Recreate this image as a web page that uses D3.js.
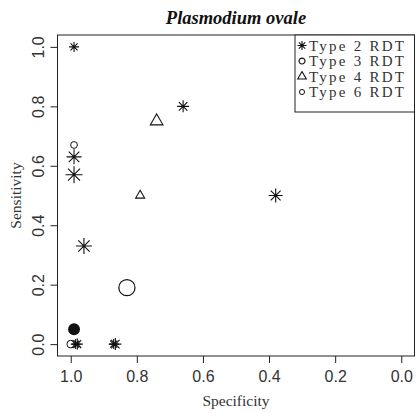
<!DOCTYPE html>
<html>
<head>
<meta charset="utf-8">
<script src="https://cdn.jsdelivr.net/npm/d3@7"></script>
<style>
  body { margin: 0; background: #fff; }
  svg { display: block; font-family: "Liberation Serif", "Times New Roman", serif; }
</style>
</head>
<body>
<svg id="chart" width="416" height="413"></svg>
<script>
// legend entries
const types = ['Type 2 RDT', 'Type 3 RDT', 'Type 4 RDT', 'Type 6 RDT'];

// one entry per study point
const specificity = [0.99, 0.66, 0.99, 0.99, 0.38, 0.96, 0.98, 0.985, 0.865, 0.87,
                     0.99, 0.83, 1.00, 0.74, 0.79, 0.99];
const sensitivity = [1.00, 0.80, 0.63, 0.57, 0.50, 0.33, 0.00, 0.00, 0.00, 0.00,
                     0.67, 0.19, 0.00, 0.75, 0.50, 0.05];
const rdtType     = ['Type 2 RDT', 'Type 2 RDT', 'Type 2 RDT', 'Type 2 RDT', 'Type 2 RDT',
                     'Type 2 RDT', 'Type 2 RDT', 'Type 2 RDT', 'Type 2 RDT', 'Type 2 RDT',
                     'Type 6 RDT', 'Type 3 RDT', 'Type 6 RDT', 'Type 4 RDT', 'Type 4 RDT', 'other'];
const weight      = [0.50, 0.60, 0.75, 0.85, 0.70, 0.80, 0.55, 0.50, 0.60, 0.50,
                     0.40, 0.95, 0.45, 0.70, 0.50, 0.70];

const xTicks = [1.0, 0.8, 0.6, 0.4, 0.2, 0.0];
const yTicks = [0.0, 0.2, 0.4, 0.6, 0.8, 1.0];

const svg = d3.select('#chart');
const box = { left: 57.5, right: 414.5, top: 35, bottom: 356 };

const x = d3.scaleLinear().domain([1.04, -0.04]).range([box.left, box.right]);
const y = d3.scaleLinear().domain([-0.04, 1.04]).range([box.bottom, box.top]);
const size = d3.scaleLinear().domain([0, 1]).range([0, 10]);

// symbol paths, s = half extent
function asterisk(s) {
    const a = s / Math.SQRT2;
    return `M0,${-s}L0,${s}M${-s},0L${s},0M${-a},${-a}L${a},${a}M${-a},${a}L${a},${-a}`;
}
function triangle(s) {
    const h = s * 1.732;
    return `M0,${-h * 2 / 3}L${s},${h / 3}L${-s},${h / 3}Z`;
}

function drawMark(g, type, s) {
    if (type === 'Type 2 RDT') {
        g.append('path').attr('d', asterisk(s)).attr('stroke', '#111').attr('stroke-width', 1.1).attr('fill', 'none');
    } else if (type === 'Type 4 RDT') {
        g.append('path').attr('d', triangle(s * 0.9)).attr('stroke', '#111').attr('stroke-width', 1.1).attr('fill', 'none');
    } else if (type === 'other') {
        g.append('circle').attr('r', s * 0.85).attr('fill', '#111');
    } else {
        g.append('circle').attr('r', s * 0.85).attr('stroke', '#111')
            .attr('stroke-width', type === 'Type 3 RDT' ? 1.2 : 1).attr('fill', 'none');
    }
}

// axes
const xAxis = svg.append('g')
    .attr('transform', `translate(0,${box.bottom})`)
    .call(d3.axisBottom(x).tickValues(xTicks).tickFormat(d3.format('.1f')).tickSize(7).tickPadding(8));
xAxis.select('.domain').remove();
xAxis.selectAll('text').attr('font-size', 16).attr('font-family', null).attr('fill', '#333');
xAxis.selectAll('line').attr('stroke', '#222');

const yAxis = svg.append('g')
    .attr('transform', `translate(${box.left},0)`)
    .call(d3.axisLeft(y).tickValues(yTicks).tickFormat(d3.format('.1f')).tickSize(7));
yAxis.select('.domain').remove();
yAxis.selectAll('line').attr('stroke', '#222');
yAxis.selectAll('text')
    .attr('transform', 'rotate(-90)')
    .attr('x', 0).attr('y', -13.5).attr('dy', 0)
    .attr('text-anchor', 'middle')
    .attr('font-size', 16).attr('font-family', null).attr('fill', '#333');

// plot box
svg.append('rect')
    .attr('x', box.left).attr('y', box.top)
    .attr('width', box.right - box.left).attr('height', box.bottom - box.top)
    .attr('fill', 'none').attr('stroke', '#222').attr('stroke-width', 1);

// titles
svg.append('text')
    .attr('x', (box.left + box.right) / 2).attr('y', 24)
    .attr('text-anchor', 'middle')
    .attr('font-size', 18.5).attr('font-weight', 'bold').attr('font-style', 'italic')
    .attr('fill', '#111')
    .text('Plasmodium ovale');

svg.append('text')
    .attr('x', (box.left + box.right) / 2).attr('y', 406)
    .attr('text-anchor', 'middle').attr('font-size', 15.5).attr('fill', '#333')
    .text('Specificity');

svg.append('text')
    .attr('transform', `translate(21,${(box.top + box.bottom) / 2}) rotate(-90)`)
    .attr('text-anchor', 'middle').attr('font-size', 15.5).attr('fill', '#333')
    .text('Sensitivity');

// points
const points = specificity.map((d, i) => ({
    spec: d, sens: sensitivity[i], type: rdtType[i], w: weight[i]
}));

svg.append('g').selectAll('g')
    .data(points)
    .enter()
    .append('g')
    .attr('transform', d => `translate(${x(d.spec)},${y(d.sens)})`)
    .each(function(d) {
        drawMark(d3.select(this), d.type, size(d.w));
    });

// legend
const legend = svg.append('g');
legend.append('rect')
    .attr('x', 295).attr('y', box.top)
    .attr('width', box.right - 295).attr('height', 77)
    .attr('fill', '#fff').attr('stroke', '#222');

const legendSize = { 'Type 2 RDT': 4.5, 'Type 3 RDT': 3.5, 'Type 4 RDT': 4.8, 'Type 6 RDT': 3 };
legend.selectAll('g.item')
    .data(types)
    .enter()
    .append('g')
    .attr('class', 'item')
    .attr('transform', (d, i) => `translate(302,${45.5 + i * 15.5})`)
    .each(function(d) {
        const g = d3.select(this);
        drawMark(g, d, legendSize[d]);
        g.append('text')
            .attr('x', 7).attr('y', 5)
            .attr('font-size', 15).attr('fill', '#333')
            .attr('textLength', 95).attr('lengthAdjust', 'spacing')
            .text(d);
    });
</script>
</body>
</html>
